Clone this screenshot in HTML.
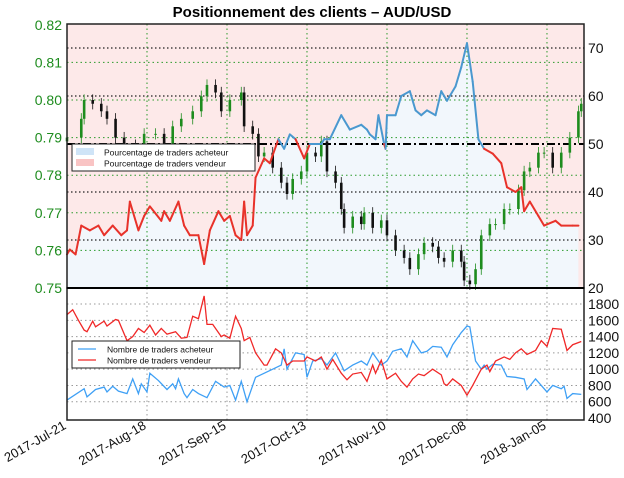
<!DOCTYPE html>
<html><head><meta charset="utf-8"><style>
body{margin:0;background:#fff;font-family:"Liberation Sans",sans-serif}
</style></head><body>
<svg id="c" width="624" height="473" xmlns="http://www.w3.org/2000/svg" style="font-family:'Liberation Sans',sans-serif">
<text x="312" y="17" text-anchor="middle" font-size="15" font-weight="bold">Positionnement des clients – AUD/USD</text>
<g id="g"></g>
</svg>
<script>
const pctDays=[0,1,3,5,8,11,13,16,19,21,22,25,27,29,33,34,36,39,41,43,46,48,50,53,55,57,59,61,62,63,65,66,69,71,74,76,78,80,83,85,89,90,92,96,99,103,105,106,108,109,111,111.5,112,115,117,120,122,124,126,129,131,133,136,138,140,142,144,146,149,152,154,157,159,160,162,165,167,171,173,177,179];
const pctVals=[27,28,27,33,32,33,31,33,31,32,38,32,35,37,34,36,34,38,33,31,31,25,32,36,34,35,31,30,38,31,33,43,47,46,51,49,52,51,47,50,50,51,51,56,53,54,53,52,51,56,50,49,56,56,60,61,57,56,57,56,61,59,62,66,71,63,51,49,48,46,41,40,41,36,38,35,33,34,33,33,33];
const priceDays=[0,5,6,9,12,14,17,20,24,27,31,34,37,40,44,47,49,52,54,57,61,62,65,67,69,72,75,77,79,82,84,87,89,91,94,96,97,100,103,104,107,110,112,115,118,120,123,125,128,130,132,135,138,139,141,143,145,148,150,153,155,158,160,162,165,167,170,173,176,179,180];
const priceClose=[0.790,0.795,0.800,0.799,0.797,0.795,0.790,0.788,0.787,0.791,0.791,0.788,0.793,0.795,0.797,0.801,0.804,0.802,0.797,0.800,0.802,0.793,0.791,0.785,0.786,0.782,0.778,0.775,0.779,0.781,0.786,0.785,0.789,0.781,0.778,0.771,0.766,0.769,0.767,0.770,0.766,0.768,0.764,0.760,0.758,0.755,0.759,0.762,0.761,0.758,0.757,0.760,0.757,0.752,0.751,0.755,0.764,0.767,0.767,0.771,0.771,0.776,0.781,0.782,0.786,0.786,0.782,0.786,0.790,0.797,0.799];
const buyDays=[0,6,7,10,13,14,16,18,21,23,25,26,28,29,32,35,37,38,39,41,42,44,46,49,52,55,57,59,61,63,66,72,75,76,77,80,83,84,86,89,91,94,97,100,103,105,107,110,112,114,117,119,121,124,126,128,131,133,135,138,140,141,143,145,146,147,149,152,154,157,160,161,164,166,168,170,173,174,175,177,180];
const buyVals=[620,760,660,750,780,720,790,730,700,880,700,820,720,950,860,750,820,760,880,700,650,750,700,650,850,780,800,620,850,600,900,1000,1050,1250,1000,1200,1180,900,1100,1130,1050,1200,980,1050,1100,1050,1200,1050,1100,1220,1250,1150,1350,1200,1220,1280,1270,1150,1300,1450,1530,1520,1100,1000,1050,1000,1060,1050,910,900,880,750,880,800,720,800,760,790,640,700,690];
const sellDays=[0,2,4,6,7,9,10,13,14,17,18,21,23,25,27,29,31,33,35,38,40,42,44,46,48,49,51,54,55,57,59,61,62,64,66,69,70,73,75,77,79,83,84,87,89,91,93,96,98,100,103,105,107,108,110,112,115,117,119,121,123,125,128,131,132,133,135,138,140,142,145,147,148,150,153,155,157,159,161,164,166,168,170,173,175,177,180];
const sellVals=[1670,1730,1600,1480,1460,1590,1520,1590,1530,1610,1600,1350,1400,1500,1450,1540,1420,1500,1430,1460,1380,1390,1650,1620,1900,1550,1550,1400,1420,1380,1650,1500,1350,1390,1200,1050,1050,1250,1200,1050,1100,1100,1150,1100,1150,1000,1120,950,870,940,960,850,1050,950,1110,880,950,850,780,880,940,920,1000,930,820,800,880,800,680,800,1000,1050,970,1100,1150,1120,1200,1250,1180,1230,1350,1280,1500,1490,1230,1300,1340];
const dateLabels=["2017-Jul-21","2017-Aug-18","2017-Sep-15","2017-Oct-13","2017-Nov-10","2017-Dec-08","2018-Jan-05"];
const dateDays=[0,28,56,84,112,140,168];
const leftTicks=[0.75,0.76,0.77,0.78,0.79,0.80,0.81,0.82];
const rightTicks=[20,30,40,50,60,70];
const lowTicks=[400,600,800,1000,1200,1400,1600,1800];

const NS="http://www.w3.org/2000/svg",G=document.getElementById('g');
const L=67,R=584,T=24,MB=288,LB=420;
const x=d=>L+d*2.857;
const yP=v=>MB-(v-0.75)*3760;
const yR=v=>MB-(v-20)*4.8;
const yC=v=>418-(v-400)*0.0814;
function el(t,a,p){const e=document.createElementNS(NS,t);for(const k in a)e.setAttribute(k,a[k]);(p||G).appendChild(e);return e;}
// backgrounds
let bg=el('rect',{x:L,y:T,width:R-L,height:MB-T,fill:'#fde9e9'});

let pts=pctDays.map((d,i)=>x(d)+','+yR(pctVals[i])).join(' ');
let fill=el('polygon',{points:x(pctDays[0])+','+MB+' '+pts+' '+x(pctDays[pctDays.length-1])+','+MB+' '+R+','+MB,fill:'#f2f7fc'});

// grid main
leftTicks.slice(1,7).forEach(v=>{el('line',{x1:L,x2:R,y1:yP(v),y2:yP(v),stroke:'#2a9a2a','stroke-dasharray':'1.5,3','stroke-width':1});});
[30,40,60,70].forEach(v=>{el('line',{x1:L,x2:R,y1:yR(v),y2:yR(v),stroke:'#222','stroke-dasharray':'1.5,2.5','stroke-width':1.2});});
dateDays.slice(1).forEach(d=>{el('line',{x1:x(d),x2:x(d),y1:T,y2:MB,stroke:'#2a9a2a','stroke-dasharray':'1.5,3'});});
let fifty=el('line',{x1:L,x2:R,y1:yR(50),y2:yR(50),stroke:'#000','stroke-width':2,'stroke-dasharray':'8,3,2,3'});

// candles
priceDays.forEach((d,i)=>{const c=priceClose[i],o=i?priceClose[i-1]:c-0.001,up=c>=o;
 const col=up?'#1e8c1e':'#111';const g=el('g',{});
 
 el('line',{x1:x(d),x2:x(d),y1:yP(Math.max(o,c)+0.0015),y2:yP(Math.min(o,c)-0.0015),stroke:col,'stroke-width':0.8},g);
 el('rect',{x:x(d)-1.3,y:yP(Math.max(o,c)),width:2.6,height:Math.max(1,Math.abs(yP(o)-yP(c))),fill:col},g);});
// pct line
for(let i=1;i<pctDays.length;i++){const a=pctVals[i-1],b=pctVals[i];
 const s=el('line',{x1:x(pctDays[i-1]),y1:yR(a),x2:x(pctDays[i]),y2:yR(b),stroke:(a+b)/2>=50?'#4a98cf':'#e8322a','stroke-width':2,'stroke-linecap':'round'});
 }
// lower panel grid
lowTicks.slice(1).forEach(v=>{el('line',{x1:L,x2:R,y1:yC(v),y2:yC(v),stroke:'#999','stroke-dasharray':'1.5,3'});});
dateDays.slice(1).forEach(d=>{el('line',{x1:x(d),x2:x(d),y1:MB,y2:LB,stroke:'#999','stroke-dasharray':'1.5,3'});});
let bl=el('polyline',{points:buyDays.map((d,i)=>x(d)+','+yC(buyVals[i])).join(' '),fill:'none',stroke:'#3fa0f5','stroke-width':1.3});

let sl=el('polyline',{points:sellDays.map((d,i)=>x(d)+','+yC(sellVals[i])).join(' '),fill:'none',stroke:'#f02828','stroke-width':1.3});

// frames
let f1=el('rect',{x:L,y:T,width:R-L,height:MB-T,fill:'none',stroke:'#222','stroke-width':1.5});

let f2=el('rect',{x:L,y:MB,width:R-L,height:LB-MB,fill:'none',stroke:'#222','stroke-width':1.5});

el('line',{x1:L,x2:R,y1:MB,y2:MB,stroke:'#000','stroke-width':2});
// ticks
leftTicks.forEach(v=>{const t=el('text',{x:62,y:yP(v)+5,'text-anchor':'end','font-size':14,fill:'#1e8c1e'});t.textContent=v.toFixed(2);
 });
rightTicks.forEach(v=>{const t=el('text',{x:588,y:yR(v)+5,'font-size':14,fill:'#111'});t.textContent=v;
 });
lowTicks.forEach(v=>{const t=el('text',{x:588,y:yC(v)+5,'font-size':14,fill:'#111'});t.textContent=v;
 });
dateLabels.forEach((s,i)=>{const xx=x(dateDays[i]);const t=el('text',{x:xx,y:428,'text-anchor':'end','font-size':13,fill:'#111',transform:'rotate(-30 '+xx+' 428)'});t.textContent=s;
 });
// legends
function legend(x0,y0,w,items,name){const g=el('g',{});
 el('rect',{x:x0,y:y0,width:w,height:27,fill:'#fff',stroke:'#222','stroke-width':1},g);
 items.forEach((it,i)=>{const yy=y0+8+i*11;
  if(it.box) el('rect',{x:x0+4,y:yy-4,width:18,height:7,fill:it.c},g); else el('line',{x1:x0+6,x2:x0+24,y1:yy,y2:yy,stroke:it.c,'stroke-width':1.3},g);
  const t=el('text',{x:x0+(it.box?32:35),y:yy+3.5,'font-size':8.5,fill:'#111'},g);t.textContent=it.t;});}
legend(72,144,183,[{box:1,c:'#cfe4f7',t:'Pourcentage de traders acheteur'},{box:1,c:'#f9c4c4',t:'Pourcentage de traders vendeur'}],'percent-legend');
legend(72,341,168,[{c:'#3fa0f5',t:'Nombre de traders acheteur'},{c:'#f02828',t:'Nombre de traders vendeur'}],'count-legend');
</script>
</body></html>
